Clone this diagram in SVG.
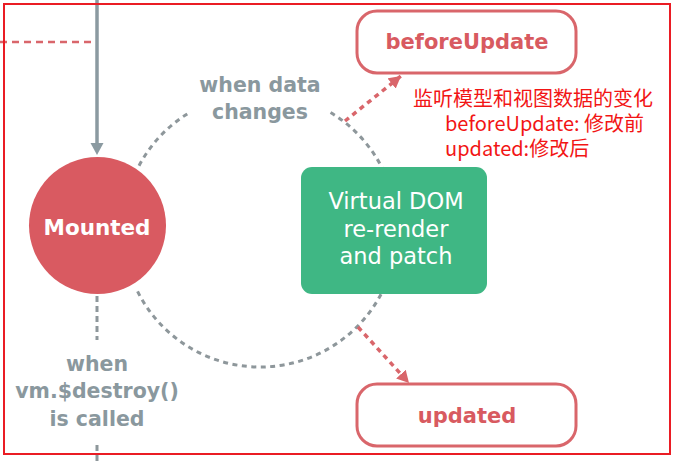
<svg xmlns="http://www.w3.org/2000/svg" width="676" height="461" viewBox="0 0 676 461">
<style>
.lbl{font-family:"DejaVu Sans","Liberation Sans",sans-serif;font-weight:bold;fill:#8a989e;text-anchor:middle}
.hook{font-family:"DejaVu Sans","Liberation Sans",sans-serif;font-weight:bold;font-size:21px;fill:#d85a60;text-anchor:middle}
.hookbox{fill:#ffffff;stroke:#d9666b;stroke-width:3}
.gdash{fill:none;stroke:#8e979b;stroke-width:3;stroke-dasharray:5 4.5}
.rdash{fill:none;stroke:#d9666b;stroke-width:3.5;stroke-dasharray:5 4.5}
.note{font-family:"Noto Sans CJK SC","Noto Sans",sans-serif;font-size:20px;fill:#f21515}
.vd{font-family:"DejaVu Sans","Liberation Sans",sans-serif;font-size:22.5px;fill:#ffffff;text-anchor:middle}
</style>
<defs>
<marker id="rhead" markerUnits="userSpaceOnUse" markerWidth="13" markerHeight="13" refX="12" refY="6.5" orient="auto" viewBox="0 0 13 13">
<path d="M0,0 L12,6.5 L0,13 z" fill="#d9666b"/>
</marker>
</defs>
<rect width="676" height="461" fill="#ffffff"/>
<g id="connectors">
<line x1="0" y1="42" x2="95" y2="42" stroke="#d9666b" stroke-width="2.5" stroke-dasharray="7 5"/>
<line x1="97" y1="0" x2="97" y2="144" stroke="#8b9aa1" stroke-width="3.5"/>
<polygon points="90.5,143 103.5,143 97,155" fill="#8b9aa1"/>
<path class="gdash" d="M139.04,165.68 A137,137 0 0 1 189.44,112.57"/>
<path class="gdash" d="M330.56,112.57 A137,137 0 0 1 388.74,183.15"/>
<path class="gdash" d="M388.74,276.86 A137,137 0 0 1 135.84,287.90"/>
<line x1="97" y1="296" x2="97" y2="340" stroke="#8e979b" stroke-width="3" stroke-dasharray="6 4"/>
<line x1="97" y1="445" x2="97" y2="461" stroke="#8e979b" stroke-width="3" stroke-dasharray="6 4"/>
<line class="rdash" x1="345" y1="121" x2="401" y2="76" marker-end="url(#rhead)"/>
<line class="rdash" x1="358" y1="327" x2="409" y2="383" marker-end="url(#rhead)"/>
</g>
<g id="mounted">
<circle cx="97.5" cy="225.5" r="68.5" fill="#d95a61"/>
<text x="97" y="235" font-family="DejaVu Sans, Liberation Sans, sans-serif" font-weight="bold" font-size="21.5" fill="#ffffff" text-anchor="middle">Mounted</text>
</g>
<g id="vdom">
<rect x="301" y="167" width="186" height="127" rx="11" fill="#3fb784"/>
<text class="vd" x="396" y="209">Virtual DOM</text>
<text class="vd" x="396" y="237">re-render</text>
<text class="vd" x="396" y="264">and patch</text>
</g>
<g id="beforeUpdate">
<rect class="hookbox" x="357" y="11" width="219" height="62" rx="20"/>
<text class="hook" x="467" y="49">beforeUpdate</text>
</g>
<g id="updated">
<rect class="hookbox" x="357" y="384" width="219" height="62" rx="20"/>
<text class="hook" x="467" y="423">updated</text>
</g>
<g id="label-data">
<text class="lbl" font-size="20.5" x="260" y="92">when data</text>
<text class="lbl" font-size="20.5" x="260" y="119">changes</text>
</g>
<g id="label-destroy">
<text class="lbl" font-size="20.5" x="97" y="371">when</text>
<text class="lbl" font-size="20.5" x="97" y="398">vm.$destroy()</text>
<text class="lbl" font-size="20.5" x="97" y="426">is called</text>
</g>
<g id="note">
<text class="note" x="413" y="105.5">监听模型和视图数据的变化</text>
<text class="note" x="445" y="131">beforeUpdate: 修改前</text>
<text class="note" x="445" y="156">updated:修改后</text>
</g>
<rect x="4" y="4" width="666" height="450" fill="none" stroke="#ea1c24" stroke-width="2"/>
</svg>
